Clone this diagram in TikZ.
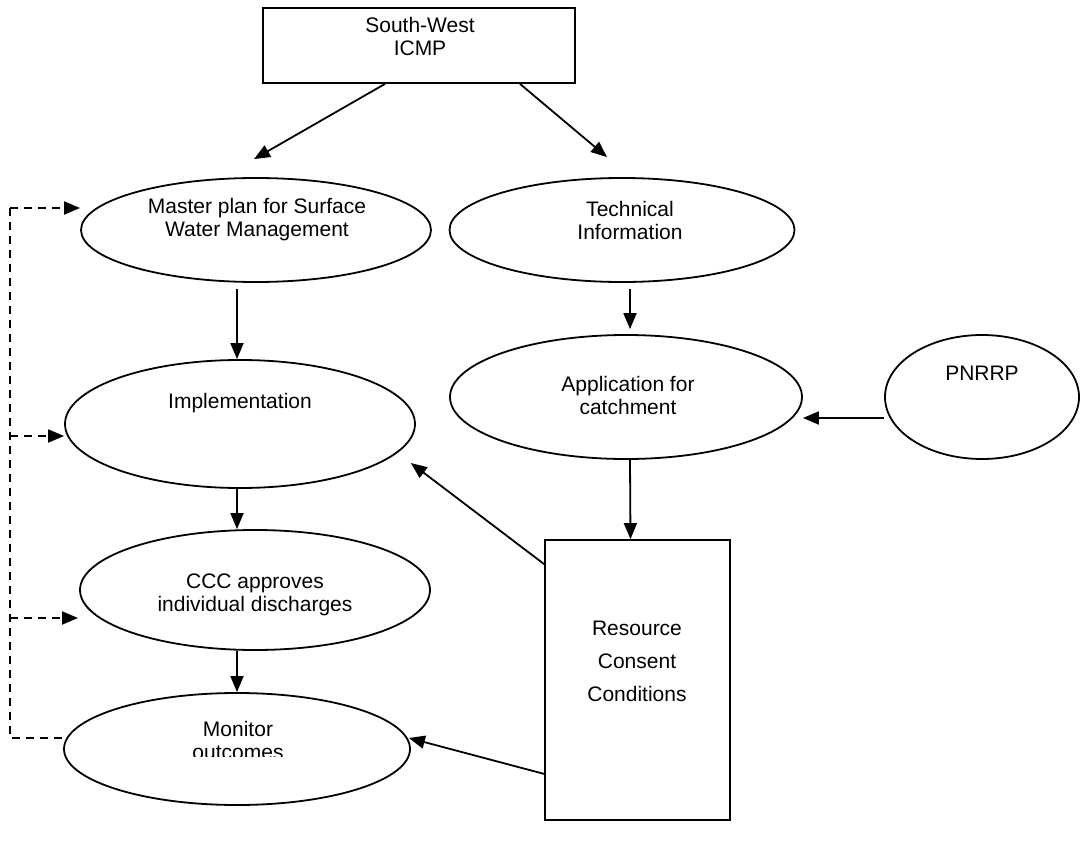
\documentclass[tikz,border=0pt]{standalone}
\usepackage{fontspec}
\setmainfont{Liberation Sans}
\usetikzlibrary{arrows.meta,calc,shapes.geometric}

\begin{document}
\begin{tikzpicture}[x=1pt,y=-1pt,
  bubble/.style={draw,ellipse,line width=1.8pt,inner sep=0pt},
  boxed/.style={draw,rectangle,line width=1.8pt,inner sep=0pt},
  conn/.style={-{Triangle[length=16pt,width=13pt]},line width=1.8pt},
  fb/.style={line width=1.8pt,dash pattern=on 8pt off 6pt},
  txt/.style={align=center,font=\fontsize{21}{23}\selectfont,inner sep=0pt}]
\useasboundingbox (0,0) rectangle (1080,843);

% top box
\node[boxed,minimum width=312pt,minimum height=75pt] (icmp) at (419,45.5) {};
\node[txt] (icmplbl) at (420,36) {South-West\\ICMP};

% ellipses
\node[bubble,minimum width=350pt,minimum height=104pt] (master) at (256,230) {};
\node[txt] (masterlbl) at (257,220) {Master plan for Surface\\Water Management};
\node[bubble,minimum width=345pt,minimum height=104pt] (tech) at (622,230) {};
\node[txt] (techlbl) at (630,220) {Technical\\Information};
\node[bubble,minimum width=352pt,minimum height=124pt] (app) at (626,397) {};
\node[txt] (applbl) at (628,395) {Application for\\catchment};
\node[bubble,minimum width=194pt,minimum height=124pt] (pnrrp) at (982,397) {};
\node[txt] (pnrrplbl) at (982,373) {PNRRP};
\node[bubble,minimum width=350pt,minimum height=128pt] (impl) at (240,424) {};
\node[txt] (impllbl) at (240,403) {Implementation};
\node[bubble,minimum width=350pt,minimum height=120pt] (ccc) at (255,590) {};
\node[txt] (ccclbl) at (255,595) {CCC approves\\individual discharges};
\node[bubble,minimum width=346pt,minimum height=112pt] (mon) at (237,749) {};
\begin{scope}
  \clip (140,700) rectangle (340,756);
  \node[txt] (monlbl) at (238,740) {Monitor\\outcomes};
\end{scope}

% conditions box
\node[boxed,minimum width=185pt,minimum height=280pt] (rcc) at (637.5,680) {};
\node[txt,font=\fontsize{21}{33}\selectfont] (rcclbl) at (637,661) {Resource\\Consent\\Conditions};

% arrows
\draw[conn] ([xshift=-34pt]icmp.south) -- ([xshift=-2pt,yshift=18pt]master.north);
\draw[conn] ([xshift=101pt]icmp.south) -- ([xshift=-15pt,yshift=20pt]tech.north);
\draw[conn] ([xshift=-19pt,yshift=-6pt]master.south) -- ([xshift=-3pt]impl.north);
\draw[conn] ([xshift=8pt,yshift=-6pt]tech.south) -- ([xshift=4pt,yshift=5pt]app.north);
\draw[conn] ([yshift=-21pt]pnrrp.west) -- ([yshift=-21pt]app.east);
\draw[conn] ([xshift=4pt]app.south) -- ([xshift=-7pt]rcc.north);
\draw[conn] ([yshift=-25pt]rcc.north west) -- ($(impl.east)+(-5,39)$);
\draw[conn] ([xshift=-3pt]impl.south) -- ([xshift=-18pt]ccc.north);
\draw[conn] ([xshift=-18pt]ccc.south) -- (mon.north);
\draw[conn] ([yshift=47pt]rcc.south west) -- ($(mon.east)+(-2,-11)$);

% feedback loop
\coordinate (fbtop) at (10,208);
\coordinate (fbbot) at (10,738);
\draw[fb] (fbtop) -- (fbbot) -- ($(mon.west)+(0,-11)$);
\draw[fb,conn] (fbtop) -- (fbtop -| master.west);
\draw[fb,conn] (fbtop |- 0,436) -- ($(impl.west)+(0,12)$);
\draw[fb,conn] (fbtop |- 0,618) -- (78,618);
\end{tikzpicture}
\end{document}
